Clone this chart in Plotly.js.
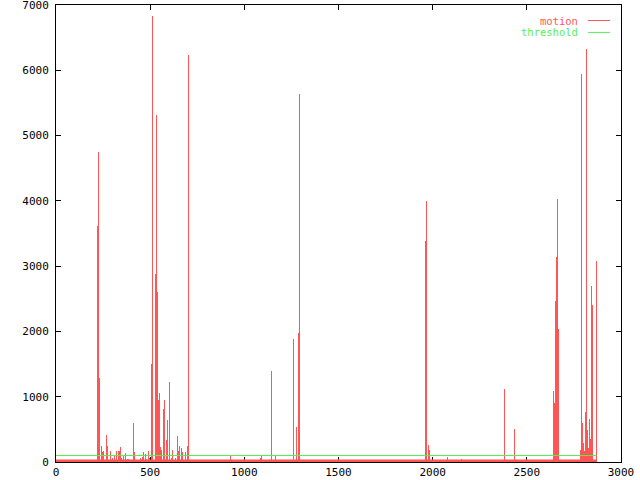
<!DOCTYPE html>
<html><head><meta charset="utf-8">
<script src="https://cdn.plot.ly/plotly-3.0.1.min.js"></script>
<style>html,body{margin:0;padding:0;background:#fff}</style>
</head><body>
<div id="chart" style="width:640px;height:480px"></div>
<script>
// frame numbers of the motion impulses and their values
const motionFrames = [
  218, 225, 231, 239, 244, 248, 253, 268, 273, 292, 300, 309, 320, 331, 335, 343, 349, 356, 369, 379, 386, 411, 416,
  449, 457, 465, 475, 482, 490, 496, 508, 513, 518, 523, 529, 534, 538, 544, 550, 555, 560, 565, 571, 576, 584, 589,
  593, 600, 605, 611, 621, 632, 643, 648, 656, 664, 671, 680, 689, 699, 705,
  928, 1088, 1093, 1146, 1168, 1263, 1269, 1279, 1285, 1290, 1295,
  1864, 1963, 1968, 1976, 1981, 2077, 2146, 2152, 2351, 2356, 2384, 2437,
  2640, 2645, 2650, 2656, 2661, 2666,
  2783, 2788, 2794, 2799, 2804, 2810, 2815, 2820, 2826, 2831, 2836, 2842, 2847, 2868
];
const motionValues = [
  3615, 4750, 1290, 245, 80, 158, 164, 414, 245, 174, 60, 97, 163, 163, 163, 225, 60, 112, 138, 40, 40, 600, 153,
  66, 76, 148, 128, 40, 168, 66, 1501, 6833, 30, 30, 2880, 5316, 2604, 950, 1057, 235, 184, 20, 812, 950, 30, 337,
  643, 1230, 1103, 66, 184, 66, 403, 174, 250, 220, 148, 30, 150, 250, 6235,
  97, 60, 92, 1394, 97, 1884, 337, 536, 490, 1981, 5638,
  30, 3380, 4000, 260, 184, 82, 30, 50, 30, 30, 1118, 505,
  1088, 909, 2466, 3146, 4030, 2038,
  184, 5944, 602, 286, 168, 766, 6327, 490, 220, 664, 357, 2696, 2410, 3079
];
const frameRange = [0, 2870];   // first and last frame of the recording
const noiseFloor = 15;          // low-level motion present in every frame
const threshold = 100;
const xTicks = [0, 500, 1000, 1500, 2000, 2500, 3000];
const yTicks = [0, 1000, 2000, 3000, 4000, 5000, 6000, 7000];
const seriesNames = ['motion', 'threshold'];

const RED = '#ff5555';
const GREEN = '#55ee55';
const FONT = 'DejaVu Sans Mono, Liberation Mono, monospace';

const traces = [
  {
    type: 'bar', name: seriesNames[0], x: motionFrames, y: motionValues,
    width: 5.3, marker: {color: RED, line: {width: 0}}, showlegend: false
  },
  {
    type: 'scatter', mode: 'lines', name: seriesNames[0],
    x: frameRange, y: [noiseFloor, noiseFloor],
    line: {color: RED, width: 3}, showlegend: false
  },
  {
    type: 'scatter', mode: 'lines', name: seriesNames[1],
    x: frameRange, y: [threshold, threshold],
    line: {color: GREEN, width: 1}, showlegend: false
  }
];

const axisCommon = {
  showgrid: false, zeroline: false, showline: true, linecolor: '#000', linewidth: 1,
  mirror: 'allticks', ticks: 'inside', ticklen: 5, tickcolor: '#000', tickwidth: 1,
  tickfont: {family: FONT, size: 11, color: '#000'}, layer: 'below traces', fixedrange: true,
  ticklabeloverflow: 'allow'
};

const layout = {
  width: 640, height: 480,
  margin: {l: 56, r: 19, t: 5, b: 18},
  paper_bgcolor: '#fff', plot_bgcolor: '#fff',
  bargap: 0,
  showlegend: false,
  xaxis: Object.assign({}, axisCommon, {range: [0, 3000], tickvals: xTicks, ticktext: xTicks.map(String)}),
  yaxis: Object.assign({}, axisCommon, {range: [0, 7000], tickvals: yTicks, ticktext: yTicks.map(String), ticklabelstandoff: 4}),
  annotations: [
    {xref: 'paper', yref: 'paper', x: 0.928, y: 0.966, xanchor: 'right', yanchor: 'middle',
     text: seriesNames[0], showarrow: false, font: {family: FONT, size: 10.5, color: RED}},
    {xref: 'paper', yref: 'paper', x: 0.928, y: 0.940, xanchor: 'right', yanchor: 'middle',
     text: seriesNames[1], showarrow: false, font: {family: FONT, size: 10.5, color: GREEN}}
  ],
  shapes: [
    {type: 'line', xref: 'paper', yref: 'paper', x0: 0.9416, x1: 0.9805, y0: 0.966, y1: 0.966,
     line: {color: RED, width: 1}},
    {type: 'line', xref: 'paper', yref: 'paper', x0: 0.9416, x1: 0.9805, y0: 0.940, y1: 0.940,
     line: {color: GREEN, width: 1}}
  ]
};

Plotly.newPlot('chart', traces, layout, {staticPlot: true, displayModeBar: false});
</script>
</body></html>
